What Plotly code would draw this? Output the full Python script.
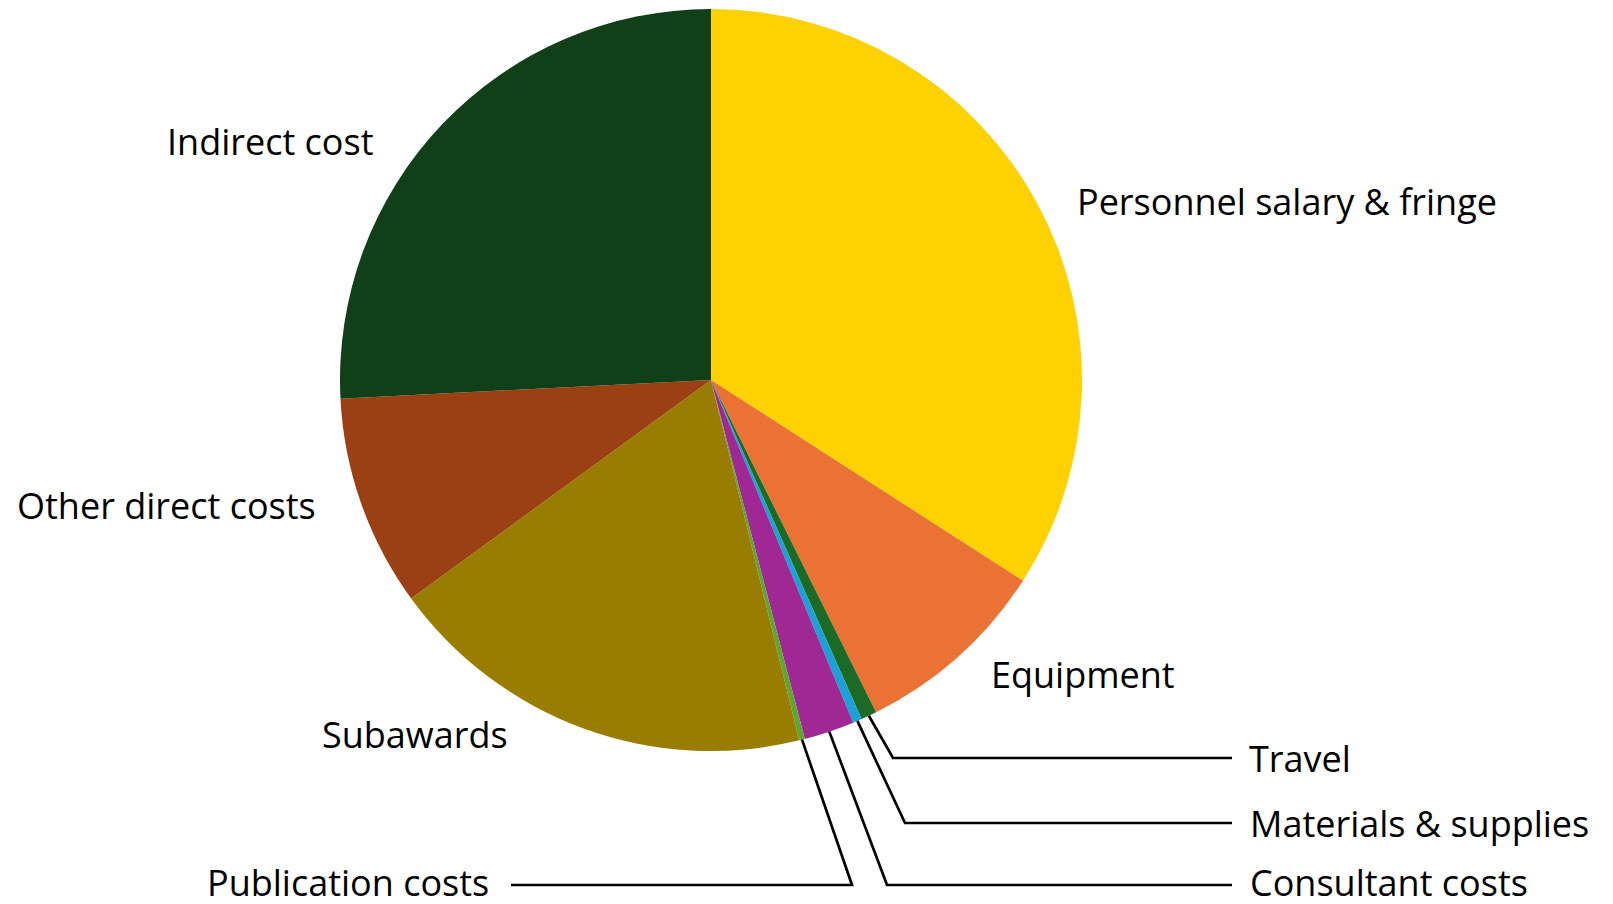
import math
import plotly.graph_objects as go

# ---- data ----
categories = ["Personnel salary & fringe", "Equipment", "Travel", "Materials & supplies",
              "Consultant costs", "Publication costs", "Subawards", "Other direct costs",
              "Indirect cost"]
values = [34.1, 8.56, 0.69, 0.39, 2.19, 0.25, 18.8, 9.22, 25.8]
colors = ["#FFD100", "#EA7234", "#1B6B26", "#1AA1D8", "#A02894", "#5AA832",
          "#997D00", "#9B4012", "#113F18"]

# ---- layout constants (page pixels) ----
W, H = 1613, 904
OFF = 8  # page body margin offset
CX, CY, R = 711, 380, 371
FONT = "Open Sans"
FS = 36

def px(x):
    return (x - OFF) / W

def py(y):
    return 1 - (y - OFF) / H

fig = go.Figure(go.Pie(
    labels=categories, values=values, sort=False, direction="clockwise", rotation=0,
    marker=dict(colors=colors, line=dict(width=0)), textinfo="none", hoverinfo="label+percent",
    showlegend=False,
    domain=dict(x=[px(CX - R), px(CX + R)], y=[py(CY + R), py(CY - R)]),
))

# plain labels: (category, x, y, anchor)
plain_labels = [
    ("Indirect cost", 165, 142, "left"),
    ("Personnel salary & fringe", 1075, 201, "left"),
    ("Other direct costs", 15, 505, "left"),
    ("Equipment", 989, 674, "left"),
    ("Subawards", 320, 734, "left"),
]
# leader-line labels: (category, elbow x, line y, line end x, label x, label y, anchor)
leader_labels = [
    ("Travel", 893, 758, 1232, 1247, 758, "left"),
    ("Materials & supplies", 905, 823, 1232, 1248, 823, "left"),
    ("Consultant costs", 887, 885, 1232, 1248, 882, "left"),
    ("Publication costs", 852, 885, 511, 491, 882, "right"),
]

annotations = []
for name, x, y, anc in plain_labels:
    annotations.append(dict(text=name, x=px(x), y=py(y), xref="paper", yref="paper",
                            xanchor=anc, yanchor="middle", showarrow=False,
                            font=dict(family=FONT, size=FS, color="#000000")))

total = sum(values)
cum = 0
mid_angle = {}
for c, v in zip(categories, values):
    mid_angle[c] = (cum + v / 2) / total * 2 * math.pi
    cum += v

shapes = []
for name, ex, ly, endx, lx, lyl, anc in leader_labels:
    a = mid_angle[name]
    sx = CX + R * math.sin(a)
    sy = CY - R * math.cos(a)
    path = f"M {px(sx)},{py(sy)} L {px(ex)},{py(ly)} L {px(endx)},{py(ly)}"
    shapes.append(dict(type="path", path=path, xref="paper", yref="paper",
                       line=dict(color="#000000", width=2.7)))
    annotations.append(dict(text=name, x=px(lx), y=py(lyl), xref="paper", yref="paper",
                            xanchor=anc, yanchor="middle", showarrow=False,
                            font=dict(family=FONT, size=FS, color="#000000")))

fig.update_layout(width=W, height=H, margin=dict(l=0, r=0, t=0, b=0),
                  paper_bgcolor="white", plot_bgcolor="white",
                  annotations=annotations, shapes=shapes)

fig.write_html("out.html")
